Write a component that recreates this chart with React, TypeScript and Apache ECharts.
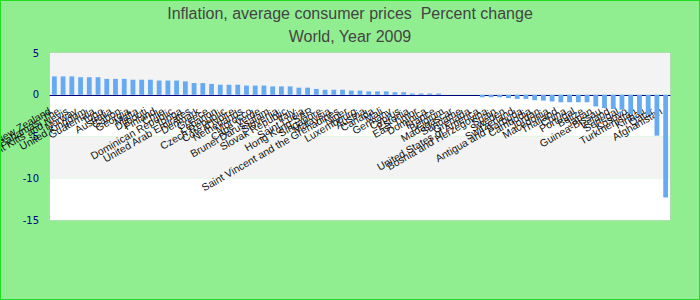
import React, { useEffect, useRef } from "react";
import * as echarts from "echarts";

const titleText = "Inflation, average consumer prices  Percent change";
const subtitleText = "World, Year 2009";

const countries = [
  "New Zealand", "Bahamas, The", "Saint Kitts and Nevis", "Norway", "United Kingdom", "Guatemala",
  "Togo", "Australia", "Gabon", "Georgia", "Malta", "Djibouti",
  "Finland", "Chile", "Dominican Republic", "Tonga", "United Arab Emirates", "Denmark",
  "Greece", "Lebanon", "Czech Republic", "Côte d'Ivoire", "Netherlands", "Morocco",
  "Cape Verde", "Brunei Darussalam", "Slovenia", "Slovak Republic", "Italy", "Saint Lucia",
  "Hong Kong SAR", "Singapore", "Malaysia", "Saint Vincent and the Grenadines", "Niger", "Luxembourg",
  "Austria", "Canada", "Mali", "Germany", "Cyprus", "Estonia",
  "East Timor", "Dominica", "France", "Belgium", "Madagascar", "Suriname",
  "Grenada", "United States of America", "Bosnia and Herzegovina", "Spain", "Sweden", "Switzerland",
  "Antigua and Barbuda", "Cambodia", "Jordan", "Macedonia", "Thailand", "China",
  "Portugal", "Belize", "Japan", "Guinea-Bissau", "Ireland", "Senegal",
  "Kosovo", "Turkmenistan", "Kiribati", "Qatar", "Afghanistan",
];

const inflation2009 = [
  2.2, 2.2, 2.2, 2.1, 2.1, 2.1,
  1.9, 1.9, 1.9, 1.8, 1.8, 1.8,
  1.7, 1.7, 1.7, 1.6, 1.4, 1.4,
  1.3, 1.2, 1.2, 1.2, 1.1, 1.1,
  1.1, 1.0, 1.0, 1.0, 0.85, 0.85,
  0.7, 0.6, 0.6, 0.6, 0.5, 0.5,
  0.4, 0.4, 0.4, 0.3, 0.3, 0.15,
  0.15, 0.15, 0.15, 0.0, 0.0, 0.0,
  0.0, -0.3, -0.3, -0.3, -0.4, -0.5,
  -0.5, -0.65, -0.7, -0.8, -0.9, -0.9,
  -0.9, -0.9, -1.4, -1.6, -1.7, -1.8,
  -2.3, -2.3, -2.4, -4.9, -12.3,
];

const yMin = -15;
const yMax = 5;
const yStep = 5;

const GRID_LEFT = 49;
const GRID_RIGHT = 29;
const GRID_TOP = 52;
const GRID_BOTTOM = 79;
const CHART_H = 298;
const PLOT_H = CHART_H - GRID_TOP - GRID_BOTTOM;
// height of the part of the plot above the zero line
const upperH = (PLOT_H * (yMax - 0)) / (yMax - yMin);

const font = "Liberation Sans, Arial, sans-serif";

export default function App() {
  const ref = useRef<HTMLDivElement>(null);

  useEffect(() => {
    if (!ref.current) return;
    const chart = echarts.init(ref.current, null, { renderer: "svg" });
    chart.setOption({
      animation: false,
      backgroundColor: "#90ee90",
      title: [
        {
          text: titleText,
          left: "center",
          top: 4,
          padding: 0,
          textStyle: { fontSize: 16, fontWeight: "normal", color: "#444", fontFamily: font },
        },
        {
          text: subtitleText,
          left: "center",
          top: 27,
          padding: 0,
          textStyle: { fontSize: 16, fontWeight: "normal", color: "#444", fontFamily: font },
        },
      ],
      grid: [
        {
          left: GRID_LEFT,
          right: GRID_RIGHT,
          top: GRID_TOP,
          bottom: GRID_BOTTOM,
          containLabel: false,
          outerBoundsMode: "none",
          show: true,
          borderColor: "#cccccc",
          borderWidth: 1,
          backgroundColor: "transparent",
        },
        {
          left: GRID_LEFT,
          right: GRID_RIGHT,
          top: GRID_TOP,
          height: upperH,
          containLabel: false,
          outerBoundsMode: "none",
          show: false,
        },
      ],
      xAxis: [
        {
          type: "category",
          gridIndex: 0,
          data: countries,
          axisLine: { show: false },
          axisTick: { show: false },
          axisLabel: { show: false },
          splitLine: { show: false },
        },
        {
          type: "category",
          gridIndex: 1,
          data: countries,
          position: "bottom",
          axisLine: { show: true, onZero: false, lineStyle: { color: "#000080", width: 1 } },
          axisTick: { show: false },
          splitLine: { show: false },
          axisLabel: {
            interval: 0,
            rotate: 30,
            color: "#111",
            fontSize: 10.5,
            margin: 13,
            padding: [0, 5, 0, 0],
            fontFamily: font,
          },
        },
      ],
      yAxis: [
        {
          type: "value",
          gridIndex: 0,
          min: yMin,
          max: yMax,
          interval: yStep,
          axisLine: { show: false },
          axisTick: { show: false },
          splitLine: { show: false },
          splitArea: { show: true, areaStyle: { color: ["#ffffff", "#f3f3f3"] } },
          axisLabel: { color: "#000080", fontSize: 10, margin: 11, fontFamily: "DejaVu Sans, sans-serif" },
        },
        {
          type: "value",
          gridIndex: 1,
          min: 0,
          max: yMax,
          show: false,
        },
      ],
      series: [
        {
          type: "bar",
          xAxisIndex: 0,
          yAxisIndex: 0,
          data: inflation2009,
          barCategoryGap: "45%",
          itemStyle: { color: "#66aaf2" },
        },
      ],
    });
    return () => chart.dispose();
  }, []);

  return (
    <div
      style={{
        position: "absolute",
        left: 0,
        top: 0,
        width: 700,
        height: 300,
        boxSizing: "border-box",
        border: "1px solid #22dd22",
        background: "#90ee90",
      }}
    >
      <div ref={ref} style={{ width: 698, height: 298 }} />
    </div>
  );
}
